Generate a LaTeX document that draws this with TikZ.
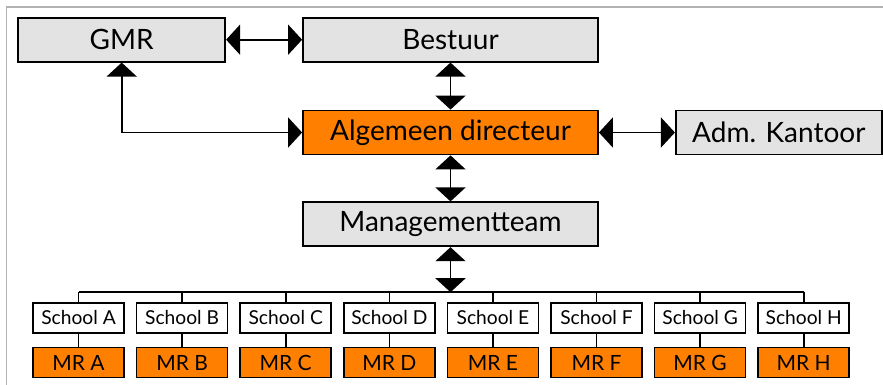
\documentclass[tikz,border=0pt]{standalone}
\usepackage{fontspec}
\setmainfont{Lato}
\usepackage{xcolor}
\usetikzlibrary{arrows.meta, positioning}
\definecolor{boxgray}{RGB}{227,227,227}
\definecolor{mrorange}{RGB}{255,128,0}
\tikzset{
    unit/.style={rectangle, draw, line width=0.9pt, fill=boxgray, minimum width=147.5pt, minimum height=22pt, inner sep=0pt, font=\fontsize{14}{16}\selectfont},
    side/.style={unit, minimum width=103.5pt},
    head/.style={unit, fill=mrorange},
    school/.style={rectangle, draw, line width=0.8pt, fill=white, minimum width=45.5pt, minimum height=15pt, inner sep=0pt, font=\fontsize{9.6}{11}\selectfont},
    council/.style={school, fill=mrorange, font=\fontsize{10.5}{12}\selectfont},
    arrow/.style={{Triangle[length=7pt,width=15pt]}-{Triangle[length=7pt,width=15pt]}, line width=0.9pt},
    link/.style={line width=0.8pt}
}

\begin{document}
\begin{tikzpicture}[node distance=23pt]
    \useasboundingbox[fill=white] (0,0) rectangle (441.5pt,-192.5pt);
    \draw[gray!60, line width=0.6pt] (3.2pt,-192.5pt) -- (3.2pt,-3.5pt) -- (441.5pt,-3.5pt);

    \node (alg) [head] at (225.25pt,-66.25pt) {Algemeen directeur};
    \node (bestuur) [unit, above=23.5pt of alg] {Bestuur};
    \node (mt) [unit, below=of alg] {Managementteam};
    \node (gmr) [side, left=38pt of bestuur] {GMR};
    \node (adm) [side, right=38pt of alg, minimum width=103pt] {Adm. Kantoor};
    \coordinate (bus) at ([yshift=-22.5pt]mt.south);

    \draw[arrow] (gmr) -- (bestuur);
    \draw[arrow] (bestuur) -- (alg);
    \draw[arrow] (alg) -- (mt);
    \draw[arrow] (alg) -- (adm);
    \draw[arrow] (gmr.south) |- (alg.west);
    \draw[arrow] (mt) -- (bus);

    \foreach \s [count=\i] in {A,B,C,D,E,F,G,H} {
        \node (school\s) [school] at ({39.25pt+(\i-1)*51.8pt},-159pt) {School \s};
        \node (mr\s) [council, below=6.5pt of school\s] {MR \s};
        \draw[link] (school\s) -- (mr\s);
        \draw[link] (school\s) -- (school\s |- bus);
    }
    \draw[link] (schoolA |- bus) -- (schoolH |- bus);
\end{tikzpicture}
\end{document}
